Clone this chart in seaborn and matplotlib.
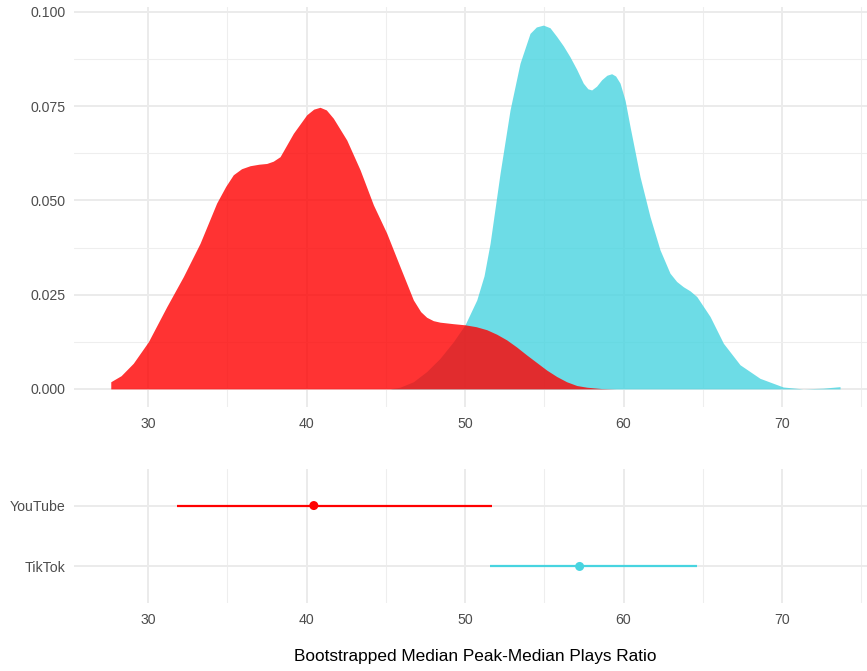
import matplotlib
matplotlib.use("Agg")
import matplotlib.pyplot as plt
import seaborn as sns
import pandas as pd

# ---- data ----
youtube_x = [27.65, 28.3, 29.07, 30.02, 31.18, 32.23, 33.28, 34.33, 34.9, 35.38, 35.9, 36.44, 37.0, 37.49,
             37.9, 38.33, 39.17, 40.01, 40.45, 40.85, 41.25, 41.69, 42.54, 43.38, 44.22, 45.06, 45.9, 46.74,
             47.2, 47.58, 48.0, 48.42, 49.26, 50.0, 50.7, 51.37, 52.0, 52.63, 53.26, 53.89, 54.52,
             55.15, 55.78, 56.41, 57.05, 57.68, 58.6, 59.53]
youtube_y = [0.0019, 0.0035, 0.0068, 0.0125, 0.0218, 0.0298, 0.0386, 0.0493, 0.0537, 0.0568, 0.0584, 0.0592, 0.0596, 0.0598,
             0.0604, 0.0616, 0.0678, 0.0727, 0.0742, 0.0747, 0.0740, 0.0718, 0.0660, 0.0581, 0.0488, 0.0413, 0.0324, 0.0236,
             0.0205, 0.0190, 0.0181, 0.0177, 0.0173, 0.0170, 0.0165, 0.0157, 0.0145, 0.0130, 0.0111, 0.0090, 0.0070,
             0.0050, 0.0033, 0.0019, 0.0009, 0.00045, 0.0001, 0.0]

tiktok_x = [45.27, 45.9, 46.74, 47.58, 48.42, 49.26, 50.0, 50.74, 51.2, 51.58, 52.21, 52.84,
            53.47, 54.1, 54.5, 54.94, 55.36, 55.78, 56.2, 56.62, 57.04, 57.46, 57.75, 57.99, 58.3, 58.62,
            58.95, 59.25, 59.5, 59.78, 60.1, 60.41, 61.04, 61.67, 62.3, 62.93, 63.35, 63.77, 64.2, 64.62,
            65.46, 66.3, 67.35, 68.61, 70.08, 71.34, 72.6, 73.66]
tiktok_y = [0.0, 0.00045, 0.0019, 0.0046, 0.0081, 0.0125, 0.0170, 0.0236, 0.0300, 0.0386, 0.0572, 0.0740,
            0.0864, 0.0943, 0.0960, 0.0965, 0.0958, 0.0935, 0.0910, 0.0881, 0.0848, 0.0811, 0.0796, 0.0793, 0.0803, 0.0820,
            0.0832, 0.0836, 0.0830, 0.0811, 0.0765, 0.0696, 0.0563, 0.0457, 0.0369, 0.0307, 0.0285, 0.0271, 0.0260, 0.0245,
            0.0192, 0.0121, 0.0064, 0.0028, 0.0005, 0.0, 0.0002, 0.0006]

platforms = ["TikTok", "YouTube"]
medians = [57.23, 40.46]
lower = [51.58, 31.82]
upper = [64.65, 51.68]

colors = {"YouTube": "#FF0000", "TikTok": "#48D4E0"}

x_ticks = [30, 40, 50, 60, 70]
y_ticks = [0.000, 0.025, 0.050, 0.075, 0.100]
y_labels = ["0.000", "0.025", "0.050", "0.075", "0.100"]

# ---- styling ----
sns.set_theme(style="white")
plt.rcParams["font.family"] = ["Liberation Sans", "DejaVu Sans"]

W, H = 867, 671
fig = plt.figure(figsize=(W / 100, H / 100), dpi=100)

def ax_rect(l, t, r, b):
    return [l / W, 1 - b / H, (r - l) / W, (b - t) / H]

xlim = (25.33, 75.36)
grid_major = "#EBEBEB"
grid_minor = "#EEEEEE"
tick_color = "#4D4D4D"

# top: densities
ax1 = fig.add_axes(ax_rect(74, 7, 867, 407))
dens = pd.concat([
    pd.DataFrame({"x": tiktok_x, "y": tiktok_y, "platform": "TikTok"}),
    pd.DataFrame({"x": youtube_x, "y": youtube_y, "platform": "YouTube"}),
])
for p in ["TikTok", "YouTube"]:
    d = dens[dens.platform == p]
    ax1.fill_between(d.x, 0, d.y, color=colors[p], alpha=0.8, linewidth=0, zorder=3)
sns.lineplot(data=dens, x="x", y="y", hue="platform", palette=colors, linewidth=0,
             legend=False, ax=ax1, sort=False, estimator=None)
ax1.set_xlim(*xlim)
ax1.set_ylim(-0.0048, 0.1013)
ax1.set_yticks(y_ticks)
ax1.set_yticklabels(y_labels)
ax1.set_xticks(x_ticks)

# bottom: intervals
ax2 = fig.add_axes(ax_rect(74, 469, 867, 603))
ypos = {"TikTok": 1, "YouTube": 2}
iv = pd.DataFrame({"platform": platforms, "median": medians, "lo": lower, "hi": upper})
iv["ypos"] = iv.platform.map(ypos)
for _, r in iv.iterrows():
    ax2.hlines(r.ypos, r.lo, r.hi, color=colors[r.platform], linewidth=1.6, zorder=3)
sns.scatterplot(data=iv, x="median", y="ypos", hue="platform", palette=colors, s=42,
                linewidth=0, legend=False, ax=ax2, zorder=4)
ax2.set_xlim(*xlim)
ax2.set_ylim(0.4, 2.6)
ax2.set_yticks([1, 2])
ax2.set_yticklabels(["TikTok", "YouTube"])
ax2.set_xticks(x_ticks)

for ax in (ax1, ax2):
    for s in ax.spines.values():
        s.set_visible(False)
    ax.set_xlabel("")
    ax.set_ylabel("")
    ax.tick_params(length=0, labelsize=10.2, labelcolor=tick_color)
    ax.tick_params(axis="x", pad=7)
    ax.tick_params(axis="y", pad=6)
    ax.set_axisbelow(True)
    for m in [25, 35, 45, 55, 65, 75]:
        ax.axvline(m, color=grid_minor, linewidth=0.8, zorder=0)
    for m in x_ticks:
        ax.axvline(m, color=grid_major, linewidth=1.4, zorder=0)

for m in [0.0125, 0.0375, 0.0625, 0.0875]:
    ax1.axhline(m, color=grid_minor, linewidth=0.8, zorder=0)
for m in y_ticks:
    ax1.axhline(m, color=grid_major, linewidth=1.4, zorder=0)
for m in [1, 2]:
    ax2.axhline(m, color=grid_major, linewidth=1.4, zorder=0)

fig.text(475 / W, 1 - 656 / H, "Bootstrapped Median Peak-Median Plays Ratio",
         ha="center", va="center", fontsize=12.4, color="black")

fig.savefig("out.png", dpi=100)
